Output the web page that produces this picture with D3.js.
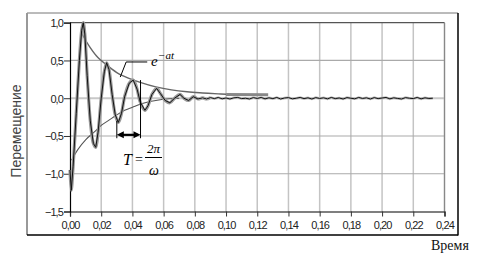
<!DOCTYPE html>
<html>
<head>
<meta charset="utf-8">
<script src="https://cdn.jsdelivr.net/npm/d3@7"></script>
<style>
  body { margin: 0; background: #fff; }
  svg text { font-family: Arial, "Liberation Sans", sans-serif; }
</style>
</head>
<body>
<script>
// measured signal (time, s / displacement)
const signalT = [0.000, 0.0008, 0.002, 0.004, 0.006, 0.0075, 0.0085, 0.0095, 0.011, 0.013, 0.015, 0.0165, 0.018,
  0.020, 0.022, 0.0235, 0.025, 0.027, 0.029, 0.031, 0.033, 0.035, 0.038, 0.0405, 0.043, 0.045, 0.048, 0.050,
  0.0525, 0.0555, 0.058, 0.061, 0.064, 0.067, 0.0705, 0.073, 0.076, 0.079, 0.082,
  0.085, 0.0875, 0.090, 0.0925, 0.095, 0.0975, 0.100, 0.1025, 0.105, 0.1075, 0.110, 0.1125, 0.115, 0.1175,
  0.120, 0.1225, 0.125, 0.1275, 0.130, 0.1325, 0.135, 0.1375, 0.140, 0.1425, 0.145, 0.1475, 0.150, 0.1525,
  0.155, 0.1575, 0.160, 0.1625, 0.165, 0.1675, 0.170, 0.1725, 0.175, 0.1775, 0.180, 0.1825, 0.185, 0.1875,
  0.190, 0.1925, 0.195, 0.1975, 0.200, 0.2025, 0.205, 0.2075, 0.210, 0.2125, 0.215, 0.2175, 0.220, 0.2225,
  0.225, 0.2275, 0.230, 0.2325];
const signalV = [-0.95, -1.22, -0.9, -0.2, 0.5, 0.9, 1.0, 0.85, 0.3, -0.3, -0.6, -0.65, -0.45,
  0.0, 0.35, 0.47, 0.38, 0.05, -0.22, -0.32, -0.2, 0.02, 0.2, 0.24, 0.12, -0.05, -0.16, -0.1,
  0.05, 0.13, 0.06, -0.03, -0.06, 0.0, 0.05, 0.0, -0.03, 0.02, -0.01,
  0.005, -0.01, 0.008, -0.005, 0.01, -0.008, 0.003, -0.01, 0.005, 0.01, -0.005, 0.0, -0.01, 0.008,
  -0.003, 0.01, -0.008, 0.005, -0.005, 0.01, -0.01, 0.003, 0.008, -0.008, 0.0, 0.01, -0.005, 0.005,
  -0.01, 0.008, -0.003, 0.005, -0.008, 0.01, -0.005, 0.003, -0.01, 0.008, 0.0, -0.008, 0.01, -0.003,
  0.005, -0.01, 0.008, -0.005, 0.003, 0.01, -0.008, 0.005, -0.003, -0.01, 0.008, 0.0, -0.005, 0.01,
  -0.008, 0.005, -0.003, 0.0];

// envelopes
const upperT = [0.007, 0.012, 0.017, 0.0235, 0.030, 0.037, 0.045, 0.055, 0.065, 0.075, 0.085, 0.095, 0.100];
const upperV = [0.88, 0.70, 0.56, 0.44, 0.34, 0.27, 0.21, 0.15, 0.11, 0.085, 0.07, 0.058, 0.052];
const tailT = [0.100, 0.127];
const tailV = [0.05, 0.045];
const lowerT = [0.001, 0.005, 0.010, 0.016, 0.020, 0.025, 0.030, 0.035, 0.040, 0.045, 0.050, 0.055, 0.062, 0.070];
const lowerV = [-0.82, -0.68, -0.55, -0.44, -0.36, -0.29, -0.22, -0.16, -0.12, -0.08, -0.05, -0.03, -0.01, 0.0];

const xTicks = [0, 0.02, 0.04, 0.06, 0.08, 0.10, 0.12, 0.14, 0.16, 0.18, 0.20, 0.22, 0.24];
const yTicks = [-1.5, -1.0, -0.5, 0.0, 0.5, 1.0];

const W = 490, H = 265;
const pLeft = 70, pRight = 444.5, pTop = 22.7, pBottom = 211.5;

const svg = d3.select("body").append("svg")
  .attr("width", W).attr("height", H);

const x = d3.scaleLinear().domain([0, 0.24]).range([pLeft, pRight]);
const y = d3.scaleLinear().domain([-1.5, 1.0]).range([pBottom, pTop]);
const fmt = d => d3.format(".2f")(d).replace(".", ",");
const fmtY = d => d3.format(".1f")(d).replace(".", ",");

// outer frame
svg.append("line").attr("x1", 27).attr("y1", 13).attr("x2", 458).attr("y2", 13).attr("stroke", "#777").attr("stroke-width", 1);
svg.append("line").attr("x1", 27).attr("y1", 13).attr("x2", 27).attr("y2", 235).attr("stroke", "#999").attr("stroke-width", 2);
svg.append("line").attr("x1", 458).attr("y1", 13).attr("x2", 458).attr("y2", 235.5).attr("stroke", "#000").attr("stroke-width", 1.5);
svg.append("line").attr("x1", 27).attr("y1", 235).attr("x2", 458).attr("y2", 235).attr("stroke", "#000").attr("stroke-width", 1.5);

// grid
svg.append("g").selectAll("line").data(xTicks.slice(1)).enter().append("line")
  .attr("x1", d => x(d)).attr("x2", d => x(d)).attr("y1", pTop).attr("y2", pBottom)
  .attr("stroke", "#c4c4c4").attr("stroke-width", 1.5);
svg.append("g").selectAll("line").data(yTicks.slice(1, 5)).enter().append("line")
  .attr("x1", pLeft).attr("x2", pRight).attr("y1", d => y(d)).attr("y2", d => y(d))
  .attr("stroke", d => d === 0 ? "#c8c8c8" : "#aaa").attr("stroke-width", d => d === 0 ? 2 : 1.2);

// plot border top/right
svg.append("line").attr("x1", pLeft).attr("x2", pRight).attr("y1", pTop).attr("y2", pTop).attr("stroke", "#555").attr("stroke-width", 1.2);
svg.append("line").attr("x1", pRight).attr("x2", pRight).attr("y1", pTop).attr("y2", pBottom).attr("stroke", "#888").attr("stroke-width", 1.2);

// axes
const xAxis = svg.append("g").attr("transform", "translate(0," + pBottom + ")")
  .call(d3.axisBottom(x).tickValues(xTicks).tickFormat(fmt).tickSize(5).tickPadding(5));
const yAxis = svg.append("g").attr("transform", "translate(" + pLeft + ",0)")
  .call(d3.axisLeft(y).tickValues(yTicks).tickFormat(fmtY).tickSize(6).tickPadding(1));
[xAxis, yAxis].forEach(a => {
  a.select(".domain").attr("stroke", "#000").attr("stroke-width", 1.2);
  a.selectAll(".tick line").attr("stroke", "#333");
  a.selectAll("text").attr("font-size", 11).attr("fill", "#222")
    .style("font-family", "Arial, 'Liberation Sans', sans-serif").attr("letter-spacing", -0.9);
});
yAxis.selectAll("text").attr("dy", "0.35em");

// curves
const line = d3.line().x(d => x(d[0])).y(d => y(d[1]));
const sig = signalT.map((t, i) => [t, signalV[i]]);
const up = upperT.map((t, i) => [t, upperV[i]]);
const lo = lowerT.map((t, i) => [t, lowerV[i]]);
const tail = tailT.map((t, i) => [t, tailV[i]]);

const smooth = d3.line().curve(d3.curveCatmullRom).x(d => x(d[0])).y(d => y(d[1]));
svg.append("path").datum(up).attr("d", smooth).attr("fill", "none").attr("stroke", "#666").attr("stroke-width", 1.4);
svg.append("path").datum(tail).attr("d", line).attr("fill", "none").attr("stroke", "#888").attr("stroke-width", 3);
svg.append("path").datum(lo).attr("d", smooth).attr("fill", "none").attr("stroke", "#555").attr("stroke-width", 1.1);

svg.append("path").datum(sig.filter(d => d[0] <= 0.09)).attr("d", smooth).attr("fill", "none").attr("stroke", "#999").attr("stroke-width", 3.2);
svg.append("path").datum(sig.filter(d => d[0] >= 0.082)).attr("d", line).attr("fill", "none").attr("stroke", "#bbb").attr("stroke-width", 2.5);
svg.append("path").datum(sig).attr("d", line).attr("fill", "none").attr("stroke", "#111").attr("stroke-width", 1);

// period annotation
const ann = svg.append("g").attr("stroke", "#000");
ann.append("line").attr("x1", x(0.0300)).attr("x2", x(0.0300)).attr("y1", y(-0.30)).attr("y2", y(-0.53)).attr("stroke-width", 1);
ann.append("line").attr("x1", x(0.0452)).attr("x2", x(0.0452)).attr("y1", y(0.24)).attr("y2", y(-0.53)).attr("stroke-width", 1);
ann.append("line").attr("x1", x(0.0300) + 3).attr("x2", x(0.0452) - 3).attr("y1", y(-0.485)).attr("y2", y(-0.485)).attr("stroke-width", 2.2);
const ay = y(-0.485);
[[x(0.0300), 1], [x(0.0452), -1]].forEach(([px, s]) => {
  svg.append("path").attr("d", `M${px},${ay} L${px + 7 * s},${ay - 3.5} L${px + 7 * s},${ay + 3.5} Z`).attr("fill", "#000");
});

const serif = "'Liberation Serif', 'DejaVu Serif', serif";
svg.append("text").attr("x", 123).attr("y", 165).attr("font-size", 16).attr("font-style", "italic")
  .style("font-family", serif).text("T");
svg.append("text").attr("x", 135).attr("y", 164).attr("font-size", 14)
  .style("font-family", serif).text("=");
svg.append("text").attr("x", 147).attr("y", 153).attr("font-size", 13).attr("font-style", "italic")
  .style("font-family", serif).text("2π");
svg.append("line").attr("x1", 145).attr("x2", 162).attr("y1", 157.5).attr("y2", 157.5).attr("stroke", "#000").attr("stroke-width", 1);
svg.append("text").attr("x", 149).attr("y", 175).attr("font-size", 14).attr("font-style", "italic")
  .style("font-family", serif).text("ω");

// envelope label
svg.append("path")
  .attr("d", `M${x(0.0322)},${y(0.28)} L${x(0.0360)},${y(0.48)} L${x(0.0495)},${y(0.48)}`)
  .attr("fill", "none").attr("stroke", "#000").attr("stroke-width", 1);
svg.append("text").attr("x", 151).attr("y", 66).attr("font-size", 15).attr("font-style", "italic")
  .style("font-family", serif).text("e");
svg.append("text").attr("x", 158).attr("y", 59).attr("font-size", 11).attr("font-style", "italic")
  .style("font-family", serif).text("−at");

// axis titles
svg.append("text").attr("transform", "translate(21,131) rotate(-90)").attr("text-anchor", "middle")
  .attr("font-size", 14).attr("fill", "#444").text("Перемещение");
svg.append("text").attr("x", 431).attr("y", 250).attr("font-size", 14).attr("fill", "#111")
  .style("font-family", serif).text("Время");
</script>
</body>
</html>
